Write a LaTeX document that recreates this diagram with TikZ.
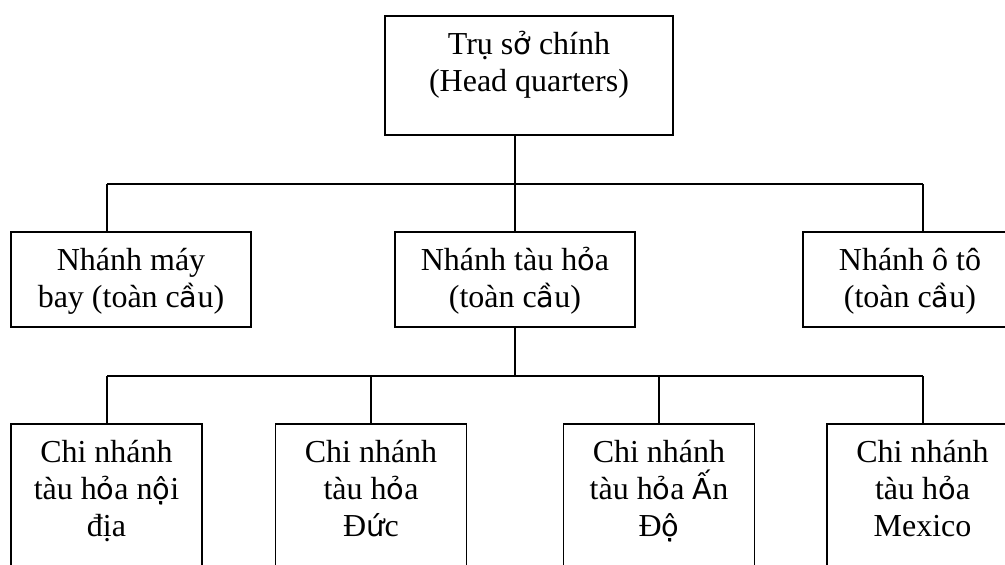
\documentclass[tikz,border=0pt]{standalone}
\usepackage{fontspec}
\setmainfont{Liberation Serif}
\newfontfamily\sansalt{DejaVu Sans}[Scale=0.9]
\newcommand{\vs}[1]{{\sansalt #1}}
\usetikzlibrary{calc}

\begin{document}
\begin{tikzpicture}[x=1pt, y=-1pt,
  box/.style={draw, rectangle, inner sep=0pt, line width=1.6pt},
  lvltop/.style={box, minimum width=288pt, minimum height=119pt},
  lvlmid/.style={box, minimum width=240pt, minimum height=95pt},
  lvlbot/.style={box, minimum width=191pt, minimum height=170pt},
  lbl/.style={anchor=north, inner sep=0pt, align=center,
    font=\fontsize{32pt}{37pt}\selectfont},
  wire/.style={line width=1.6pt}]

  \fill[white] (0,0) rectangle (1005,565);
  \useasboundingbox (0,0) rectangle (1005,565);
  \clip (0,0) rectangle (1005,565);

  % head office
  \node[lvltop] (hq) at (529,75.5) {};
  \node[lbl] (hqt) at ($(hq.north)+(0,7)$)
    {\rule{0pt}{32pt}Trụ s\vs{ở} chính\\(Head quarters)};

  % global divisions
  \node[lvlmid] (air) at (131,279.5) {};
  \node[lvlmid] (rail) at (515,279.5) {};
  \node[lvlmid, minimum width=214pt] (car) at (910,279.5) {};
  \node[lbl] (airt) at ($(air.north)+(0,7)$)
    {\rule{0pt}{32pt}Nhánh máy\\bay (toàn c\vs{ầ}u)};
  \node[lbl] (railt) at ($(rail.north)+(0,7)$)
    {\rule{0pt}{32pt}Nhánh tàu h\vs{ỏ}a\\(toàn c\vs{ầ}u)};
  \node[lbl] (cart) at ($(car.north)+(0,7)$)
    {\rule{0pt}{32pt}Nhánh ô tô\\(toàn c\vs{ầ}u)};

  % railway branches
  \node[lvlbot] (vn) at (106.5,509) {};
  \node[lvlbot] (de) at (371,509) {};
  \node[lvlbot] (in) at (659,509) {};
  \node[lvlbot] (mx) at (922.5,509) {};
  \node[lbl] (vnt) at ($(vn.north)+(0,7)$)
    {\rule{0pt}{32pt}Chi nhánh\\tàu h\vs{ỏ}a n\vs{ộ}i\\địa};
  \node[lbl] (det) at ($(de.north)+(0,7)$)
    {\rule{0pt}{32pt}Chi nhánh\\tàu h\vs{ỏ}a\\Đ\vs{ứ}c};
  \node[lbl] (int) at ($(in.north)+(0,7)$)
    {\rule{0pt}{32pt}Chi nhánh\\tàu h\vs{ỏ}a \vs{Ấ}n\\Đ\vs{ộ}};
  \node[lbl] (mxt) at ($(mx.north)+(0,7)$)
    {\rule{0pt}{32pt}Chi nhánh\\tàu h\vs{ỏ}a\\Mexico};

  % upper connector tree
  \coordinate (ja) at (rail.north |- 0,184);
  \coordinate (da1) at (107,184);
  \coordinate (da3) at (923,184);
  \draw[wire] (ja |- hq.south) -- (ja);
  \draw[wire] (da1) -- (da3);
  \draw[wire] (da1) -- (da1 |- air.north);
  \draw[wire] (ja) -- (rail.north);
  \draw[wire] (da3) -- (da3 |- car.north);

  % lower connector tree
  \coordinate (jb) at (rail.south |- 0,376);
  \coordinate (db1) at (107,376);
  \coordinate (db2) at (de.north |- 0,376);
  \coordinate (db3) at (in.north |- 0,376);
  \coordinate (db4) at (923,376);
  \draw[wire] (rail.south) -- (jb);
  \draw[wire] (db1) -- (db4);
  \draw[wire] (db1) -- (db1 |- vn.north);
  \draw[wire] (db2) -- (de.north);
  \draw[wire] (db3) -- (in.north);
  \draw[wire] (db4) -- (db4 |- mx.north);
\end{tikzpicture}
\end{document}
